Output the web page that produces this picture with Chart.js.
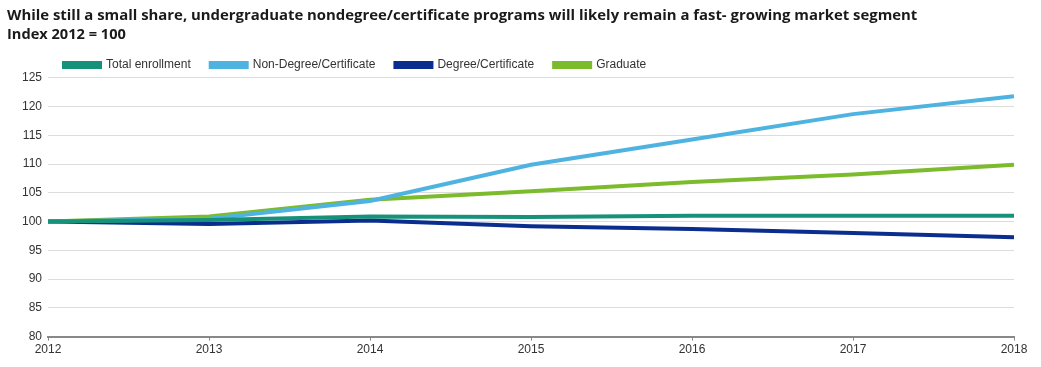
<!DOCTYPE html>
<html><head><meta charset="utf-8">
<script src="https://cdn.jsdelivr.net/npm/chart.js@4"></script>
<style>html,body{margin:0;padding:0;background:#fff}#wrap{width:1041px;height:367px;position:relative}</style>
</head><body><div id="wrap"><canvas id="c" width="1041" height="367"></canvas></div>
<script>
const years = ['2012','2013','2014','2015','2016','2017','2018'];
const totalEnrollment = [100, 100.3, 100.9, 100.8, 101.0, 101.0, 101.0];
const nonDegree = [100, 100.5, 103.6, 109.9, 114.3, 118.7, 121.8];
const degree = [100, 99.6, 100.2, 99.2, 98.7, 98.0, 97.3];
const graduate = [100, 100.9, 103.8, 105.3, 106.9, 108.2, 109.9];
const yTicks = [80, 85, 90, 95, 100, 105, 110, 115, 120, 125];

const titleText = 'While still a small share, undergraduate nondegree/certificate programs will likely remain a fast- growing market segment';
const subtitleText = 'Index 2012 = 100';

const legendShift = {
  id: 'legendShift',
  afterLayout(chart) {
    const lg = chart.legend;
    lg.left = 44;
    lg.top = 39;
  }
};

function ds(label, data, color) {
  return { label, data, borderColor: color, backgroundColor: color, borderWidth: 4, pointRadius: 0, tension: 0, borderCapStyle: 'butt' };
}

new Chart(document.getElementById('c'), {
  type: 'line',
  data: {
    labels: years,
    datasets: [
      ds('Total enrollment', totalEnrollment, '#17927a'),
      ds('Non-Degree/Certificate', nonDegree, '#4eb3e1'),
      ds('Degree/Certificate', degree, '#0b2e8e'),
      ds('Graduate', graduate, '#7bbb2c')
    ]
  },
  plugins: [legendShift],
  options: {
    responsive: false,
    animation: false,
    layout: { padding: { left: 7, right: 27, top: 0, bottom: 8 } },
    plugins: {
      title: { display: true, text: titleText, align: 'start', color: '#1a1a1a',
        font: { family: 'Open Sans', size: 14.9, weight: 'bold', lineHeight: 1 }, padding: { top: 8, bottom: 5 } },
      subtitle: { display: true, text: subtitleText, align: 'start', color: '#1a1a1a',
        font: { family: 'Open Sans', size: 14.6, weight: 'bold', lineHeight: 1 }, padding: { top: 0, bottom: -6.6 } },
      legend: { display: true, position: 'top', align: 'start',
        labels: { boxWidth: 36, boxHeight: 4, padding: 20, color: '#333',
          font: { family: 'Liberation Sans', size: 12 } } },
      tooltip: { enabled: false }
    },
    scales: {
      x: {
        type: 'category', offset: false,
        grid: { display: true, drawOnChartArea: false, tickLength: 4, color: '#888' },
        border: { display: true, color: '#888', width: 2 },
        ticks: { color: '#333', font: { family: 'Liberation Sans', size: 12 }, padding: 2, maxRotation: 0 }
      },
      y: {
        min: 80, max: 125,
        afterBuildTicks(scale) { scale.ticks = yTicks.map(v => ({ value: v })); },
        afterFit(scale) { scale.width = 41; },
        grid: { color: '#dcdcdc', lineWidth: 1, drawTicks: false },
        border: { display: false },
        ticks: { color: '#333', font: { family: 'Liberation Sans', size: 12 }, padding: 6 }
      }
    }
  }
});
</script></body></html>
